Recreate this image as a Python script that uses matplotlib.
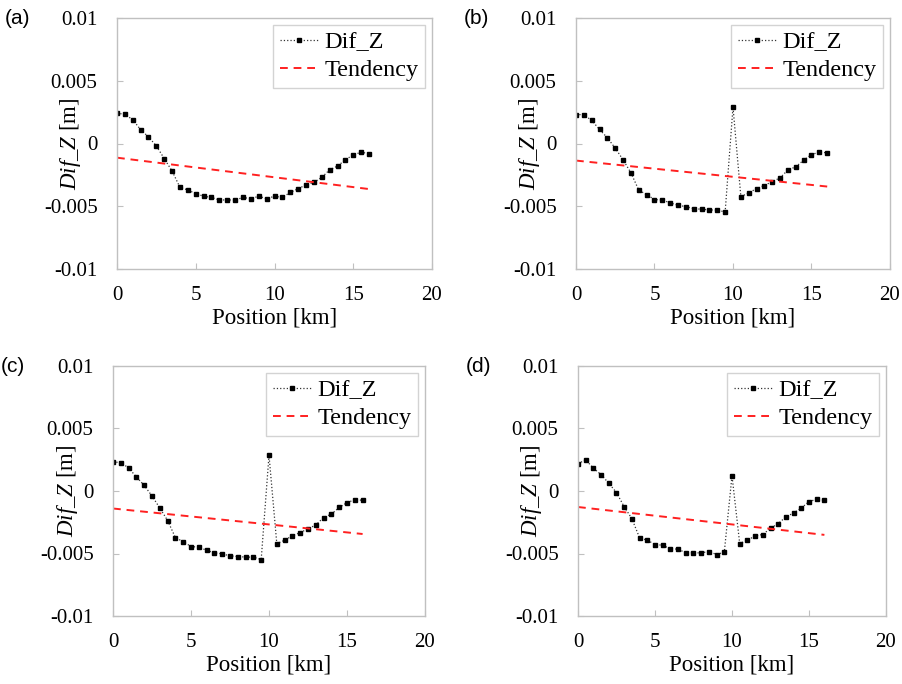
import matplotlib
matplotlib.use("Agg")
import matplotlib.pyplot as plt
import numpy as np

plt.rcParams['font.family'] = ['Liberation Serif', 'DejaVu Serif']
plt.rcParams['mathtext.fontset'] = 'custom'
plt.rcParams['mathtext.rm'] = 'Liberation Serif'
plt.rcParams['mathtext.it'] = 'Liberation Serif:italic'

# ---- data ----
position = [i * 0.5 for i in range(33)]

dif_a = [0.00242, 0.00232, 0.0019, 0.0011, 0.00053, -0.0002, -0.0012, -0.0022,
         -0.0035, -0.0037, -0.0040, -0.0042, -0.0043, -0.0045, -0.0045, -0.0045,
         -0.0043, -0.0044, -0.0042, -0.0044, -0.0042, -0.0043, -0.0039, -0.0036,
         -0.0033, -0.0031, -0.0027, -0.0021, -0.0018, -0.0013, -0.0009, -0.0007,
         -0.0008]
dif_b = [0.00231, 0.00229, 0.00184, 0.00112, 0.00045, -0.00037, -0.0013, -0.00234,
         -0.00372, -0.00407, -0.00447, -0.0045, -0.00473, -0.00492, -0.00503, -0.00519,
         -0.00524, -0.00529, -0.00532, -0.00545, 0.0029, -0.00423, -0.00394, -0.00359,
         -0.00335, -0.00303, -0.00274, -0.0021, -0.00186, -0.00133, -0.00088, -0.00069,
         -0.00074]
dif_c = [0.00233, 0.00227, 0.00185, 0.00112, 0.00045, -0.0004, -0.00136, -0.00236,
         -0.00373, -0.00405, -0.00444, -0.0045, -0.00474, -0.00495, -0.00503, -0.00519,
         -0.00524, -0.00529, -0.00529, -0.00548, 0.00286, -0.00421, -0.00394, -0.00357,
         -0.00333, -0.00302, -0.00272, -0.00212, -0.00185, -0.00132, -0.00093, -0.0007,
         -0.00074]
dif_d = [0.00219, 0.00249, 0.00182, 0.00131, 0.00062, -0.00013, -0.00126, -0.00222,
         -0.00375, -0.00394, -0.00428, -0.00434, -0.00463, -0.00465, -0.00495, -0.00495,
         -0.00495, -0.00484, -0.00508, -0.00489, 0.00123, -0.0042, -0.00394, -0.00359,
         -0.00348, -0.00298, -0.00261, -0.00207, -0.00176, -0.00136, -0.00085, -0.00066,
         -0.00074]

tend_x = [0, 16]
tend_a = [-0.00113, -0.00363]
tend_b = [-0.00136, -0.00343]
tend_c = [-0.0014, -0.00344]
tend_d = [-0.00128, -0.00351]

panel_labels = ['(a)', '(b)', '(c)', '(d)']
xticks = [0, 5, 10, 15, 20]
yticks = [-0.01, -0.005, 0, 0.005, 0.01]
yticklabels = ['-0.01', '-0.005', '0', '0.005', '0.01']

series = [dif_a, dif_b, dif_c, dif_d]
tends = [tend_a, tend_b, tend_c, tend_d]

# ---- layout (pixels) ----
W, H = 903, 684
boxes = [(117, 18, 432, 269), (576, 18, 890, 269),
         (113, 366, 425, 616), (578, 366, 886, 616)]

fig = plt.figure(figsize=(W / 100, H / 100), dpi=100)
spine_col = '#c0c0c0'

for i, (l, t, r, b) in enumerate(boxes):
    ax = fig.add_axes([l / W, 1 - b / H, (r - l) / W, (b - t) / H])
    ax.plot(position, series[i], linestyle=':', color='#333333', linewidth=0.9,
            marker='s', markersize=3.2, markerfacecolor='black',
            markeredgecolor='black', label='Dif_Z')
    ax.plot(tend_x, tends[i], linestyle=(0, (4, 3)), color='#ff2020',
            linewidth=1.4, label='Tendency')
    ax.set_xlim(0, 20)
    ax.set_ylim(-0.01, 0.01)
    ax.set_xticks(xticks)
    ax.set_yticks(yticks)
    ax.set_yticklabels(yticklabels)
    for s in ax.spines.values():
        s.set_color(spine_col)
        s.set_linewidth(1.0)
    ax.tick_params(direction='in', length=4, color=spine_col, labelsize=15,
                   labelcolor='black')
    ax.tick_params(axis='y', pad=14)
    ax.tick_params(axis='x', pad=12)
    leg = ax.legend(loc='upper right', fontsize=17.5, frameon=True, fancybox=False,
                    edgecolor='#c8c8c8', borderaxespad=0.3, handlelength=1.6,
                    handletextpad=0.25, borderpad=0.25, labelspacing=0.25,
                    numpoints=1)
    leg.get_frame().set_linewidth(1.0)
    # labels
    cx = (l + r) / 2
    fig.text(cx / W, 1 - (b + 49) / H, 'Position [km]', ha='center', va='center',
             fontsize=16.5)
    fig.text((l - 46) / W, 1 - ((t + b) / 2) / H, r'$\mathit{Dif\_Z}$ [m]',
             rotation=90, ha='center', va='center', fontsize=16.5)
    fig.text((l - 112) / W, 1 - (t) / H, panel_labels[i], ha='left', va='center',
             fontsize=15, family=['Liberation Sans', 'DejaVu Sans'])

fig.savefig('out.png', dpi=100)
